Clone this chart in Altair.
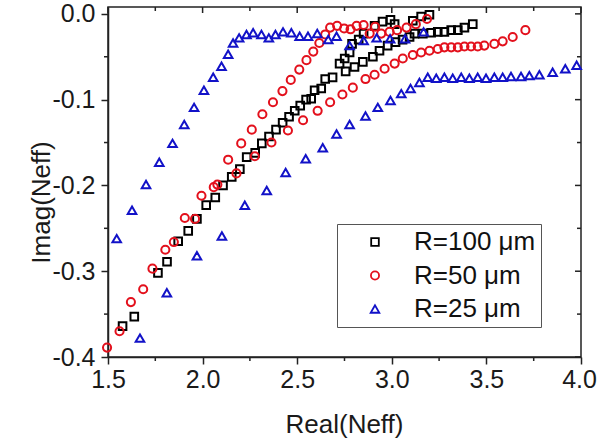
import altair as alt
import pandas as pd

# ---- data: effective index (real, imaginary) for three ring radii ----
r100_real = [1.577, 1.639, 1.764, 1.812, 1.871, 1.924, 1.970, 2.019, 2.067, 2.108, 2.154,
             2.197, 2.233, 2.278, 2.313, 2.351, 2.388, 2.423, 2.457, 2.487, 2.516, 2.547,
             2.574, 2.592, 2.627, 2.648, 2.687, 2.724, 2.751, 2.777, 2.790, 2.825, 2.851,
             2.909, 2.951, 2.993, 3.015, 3.111, 3.155, 3.199,
             2.756, 2.803, 2.847, 2.900, 2.935, 2.978, 3.020, 3.057, 3.094, 3.120, 3.164,
             3.208, 3.243, 3.278, 3.314, 3.349, 3.384, 3.428]
r100_imag = [-0.364, -0.353, -0.302, -0.289, -0.265, -0.253, -0.239, -0.223, -0.214, -0.200, -0.190,
             -0.181, -0.167, -0.162, -0.151, -0.143, -0.135, -0.127, -0.120, -0.113, -0.107, -0.100,
             -0.099, -0.089, -0.087, -0.076, -0.074, -0.058, -0.052, -0.045, -0.035, -0.030, -0.023,
             -0.014, -0.009, -0.007, -0.012, -0.008, -0.003, -0.001,
             -0.067, -0.062, -0.056, -0.050, -0.043, -0.037, -0.033, -0.030, -0.027, -0.023, -0.023,
             -0.022, -0.021, -0.021, -0.019, -0.019, -0.016, -0.012]

r50_real = [1.495, 1.561, 1.621, 1.686, 1.735, 1.803, 1.848, 1.906, 1.960, 1.994, 2.059, 2.078,
            2.135, 2.204, 2.260, 2.316, 2.372, 2.422, 2.466, 2.511, 2.549, 2.585, 2.617, 2.648,
            2.674, 2.711, 2.748, 2.782, 2.814, 2.851, 2.883, 2.912, 2.944, 2.988, 3.028, 3.078,
            3.127, 3.186,
            2.179, 2.276, 2.364, 2.451, 2.531, 2.608, 2.674, 2.739, 2.794, 2.861, 2.909, 2.962,
            3.015, 3.058, 3.111, 3.155, 3.199, 3.243, 3.278, 3.314, 3.349, 3.384, 3.419, 3.454,
            3.489, 3.542, 3.586, 3.639, 3.706]
r50_imag = [-0.389, -0.370, -0.336, -0.321, -0.297, -0.275, -0.266, -0.238, -0.239, -0.212, -0.202, -0.199,
            -0.170, -0.151, -0.135, -0.117, -0.103, -0.090, -0.077, -0.065, -0.054, -0.044, -0.034, -0.024,
            -0.016, -0.014, -0.017, -0.018, -0.014, -0.013, -0.023, -0.015, -0.023, -0.021, -0.019, -0.016,
            -0.012, -0.006,
            -0.186, -0.166, -0.150, -0.136, -0.124, -0.113, -0.103, -0.094, -0.086, -0.076, -0.071, -0.064,
            -0.058, -0.052, -0.048, -0.045, -0.043, -0.041, -0.039, -0.039, -0.039, -0.038, -0.038, -0.038,
            -0.037, -0.035, -0.032, -0.027, -0.019]

r25_real = [1.546, 1.627, 1.701, 1.771, 1.841, 1.903, 1.955, 2.007, 2.056, 2.100, 2.135, 2.161,
            2.193, 2.232, 2.267, 2.311, 2.350, 2.385, 2.425, 2.469, 2.513, 2.557, 2.606, 2.664,
            2.708, 2.777, 2.851, 2.920, 2.991, 3.070, 3.168,
            1.669, 1.811, 1.970, 2.102, 2.223, 2.339, 2.439, 2.545, 2.635, 2.708, 2.777, 2.861,
            2.926, 2.993, 3.050, 3.099, 3.146, 3.190, 3.235, 3.278, 3.322, 3.367, 3.410, 3.454,
            3.498, 3.542, 3.586, 3.630, 3.683, 3.727, 3.780, 3.850, 3.917, 3.977]
r25_imag = [-0.262, -0.229, -0.199, -0.173, -0.151, -0.129, -0.109, -0.089, -0.074, -0.061, -0.047, -0.034,
            -0.028, -0.024, -0.022, -0.024, -0.028, -0.024, -0.021, -0.022, -0.026, -0.026, -0.023, -0.030,
            -0.026, -0.037, -0.031, -0.028, -0.029, -0.029, -0.021,
            -0.378, -0.325, -0.282, -0.259, -0.223, -0.206, -0.185, -0.169, -0.156, -0.140, -0.129, -0.119,
            -0.109, -0.101, -0.093, -0.087, -0.080, -0.074, -0.075, -0.074, -0.075, -0.074, -0.075, -0.074,
            -0.075, -0.074, -0.074, -0.073, -0.073, -0.072, -0.071, -0.068, -0.064, -0.060]

series_labels = ["R=100 μm", "R=50 μm", "R=25 μm"]
series_colors = ["#000000", "#e3101c", "#1212c8"]
series_shapes = ["square", "circle", "triangle-up"]
series_sizes = [58, 74, 98]

x_major = [1.5, 2.0, 2.5, 3.0, 3.5, 4.0]
x_minor = [1.75, 2.25, 2.75, 3.25, 3.75]
y_major = [-0.4, -0.3, -0.2, -0.1, 0.0]
y_minor = [-0.35, -0.25, -0.15, -0.05]

df = pd.concat([
    pd.DataFrame({"real": r100_real, "imag": r100_imag, "series": series_labels[0]}),
    pd.DataFrame({"real": r50_real, "imag": r50_imag, "series": series_labels[1]}),
    pd.DataFrame({"real": r25_real, "imag": r25_imag, "series": series_labels[2]}),
], ignore_index=True)

W, H = 473, 350
FONT = "Liberation Sans"
INK = "#222222"
TEXT = "#1a1a1a"

x_scale = alt.Scale(domain=[1.5, 4.0], nice=False, zero=False)
y_scale = alt.Scale(domain=[-0.4, 0.008], nice=False, zero=False)

axis_style = dict(
    grid=False, domainColor=INK, domainWidth=1.5, tickColor=INK, tickWidth=1.5, tickSize=7,
    labelFont=FONT, labelFontSize=25, labelColor=TEXT,
    titleFont=FONT, titleFontSize=26, titleFontWeight="normal", titleColor=TEXT,
)

# keep the rightmost tick label inside the page
x_label_offset = {"condition": {"test": "datum.value >= 4", "value": -2}, "value": 0}

x_axis = alt.Axis(values=x_major, format=".1f", title="Real(Neff)",
                  labelPadding=3, labelFlush=False, labelOffset=x_label_offset,
                  titleX=236, titleY=67, titleBaseline="middle", titleAlign="center",
                  **axis_style)
y_axis = alt.Axis(values=y_major, title="Imag(Neff)",
                  labelExpr="(datum.value < 0 ? '-' : '') + format(abs(datum.value), '.1f')",
                  labelPadding=6, titleX=-67, titleY=195, titleAngle=270,
                  titleBaseline="middle", titleAlign="center", **axis_style)

legend = alt.Legend(
    title=None, orient="none", legendX=229, legendY=217,
    strokeColor="#555555", fillColor="white", padding=5,
    symbolOffset=20, labelOffset=26, symbolSize=45, symbolStrokeWidth=1.8,
    labelFont=FONT, labelFontSize=26, labelColor="#111111", rowPadding=7.5,
)

points = alt.Chart(df).mark_point(filled=False, strokeWidth=2, opacity=1).encode(
    x=alt.X("real:Q", scale=x_scale, axis=x_axis),
    y=alt.Y("imag:Q", scale=y_scale, axis=y_axis),
    color=alt.Color("series:N", scale=alt.Scale(domain=series_labels, range=series_colors), legend=legend),
    shape=alt.Shape("series:N", scale=alt.Scale(domain=series_labels, range=series_shapes), legend=legend),
    size=alt.Size("series:N", scale=alt.Scale(domain=series_labels, range=series_sizes), legend=None),
)

xt_major = pd.DataFrame({"t": x_major})
xt_minor = pd.DataFrame({"t": x_minor})
yt_major = pd.DataFrame({"t": y_major})
yt_minor = pd.DataFrame({"t": y_minor})


def xticks(data, y0, y1):
    return alt.Chart(data).mark_rule(color=INK, strokeWidth=1.5).encode(
        x=alt.X("t:Q", scale=x_scale, axis=x_axis), y=alt.value(y0), y2=alt.value(y1))


def yticks(data, x0, x1):
    return alt.Chart(data).mark_rule(color=INK, strokeWidth=1.5).encode(
        y=alt.Y("t:Q", scale=y_scale, axis=y_axis), x=alt.value(x0), x2=alt.value(x1))


ticks = [
    xticks(xt_major, 0, 6), xticks(xt_minor, 0, 4), xticks(xt_minor, H, H + 4),
    yticks(yt_major, W, W - 6), yticks(yt_minor, W, W - 4), yticks(yt_minor, 0, -4),
]

chart = alt.layer(points, *ticks).properties(
    width=W, height=H,
    background="white",
    autosize=alt.AutoSizeParams(type="none"),
    padding={"left": 108, "top": 7, "right": 17, "bottom": 85},
).configure_view(
    stroke=INK, strokeWidth=1.5
)

chart.save("out.html", embed_options={"renderer": "svg", "actions": False})
